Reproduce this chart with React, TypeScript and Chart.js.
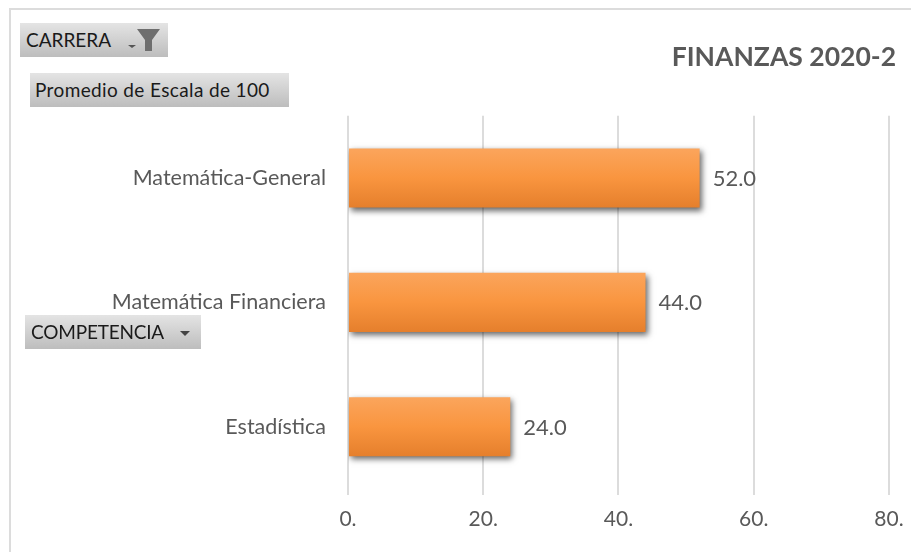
import React, { useEffect, useRef } from "react";
import { Chart, registerables } from "chart.js";

Chart.register(...registerables);

const categories = ["Matemática-General", "Matemática Financiera", "Estadística"];
const values = [52, 44, 24];
const seriesName = "Promedio de Escala de 100";
const titleText = "FINANZAS 2020-2";
const FONT = "Lato, 'Open Sans', sans-serif";
const GREY = "#595959";
const BAR_PCT = 0.475;

const barStyle: any = {
  id: "barStyle",
  beforeDatasetDraw(chart: any) {
    const c = chart.ctx;
    c.save();
    c.shadowColor = "rgba(0,0,0,0.6)";
    c.shadowBlur = 6;
    c.shadowOffsetX = 2;
    c.shadowOffsetY = 3;
  },
  afterDatasetDraw(chart: any) {
    chart.ctx.restore();
  },
  afterDatasetsDraw(chart: any) {
    const c = chart.ctx;
    const meta = chart.getDatasetMeta(0);
    c.save();
    c.font = `22px ${FONT}`;
    c.fillStyle = GREY;
    c.textAlign = "left";
    c.textBaseline = "middle";
    meta.data.forEach((el: any, i: number) => {
      c.fillText(values[i].toFixed(1), el.x + 13, el.y + 1);
    });
    c.restore();
  },
};

function Button({ left, top, width, text, textLeft = 5, spacing = 0, children }: any) {
  return (
    <div
      style={{
        position: "absolute",
        left,
        top,
        width,
        height: 34,
        background: "linear-gradient(#e4e4e4, #bdbdbd)",
        color: "#1a1a1a",
        font: `19px ${FONT}`,
        lineHeight: "34px",
        letterSpacing: spacing,
        whiteSpace: "nowrap",
      }}
    >
      <span style={{ position: "absolute", left: textLeft }}>{text}</span>
      {children}
    </div>
  );
}

export default function App() {
  const ref = useRef<HTMLCanvasElement>(null);
  useEffect(() => {
    const chart = new Chart(ref.current!, {
      type: "bar",
      data: {
        labels: categories,
        datasets: [
          {
            label: seriesName,
            data: values,
            barPercentage: BAR_PCT,
            categoryPercentage: 1,
            backgroundColor: (ctx: any) => {
              const y = ctx.chart.scales?.y;
              const idx = ctx.dataIndex;
              if (!y || idx === undefined) return "#f79646";
              const mid = y.getPixelForTick(idx);
              const h = ((y.height / categories.length) * BAR_PCT) / 2;
              if (!Number.isFinite(mid) || !Number.isFinite(h)) return "#f79646";
              const g = ctx.chart.ctx.createLinearGradient(0, mid - h, 0, mid + h);
              g.addColorStop(0, "#fba55c");
              g.addColorStop(0.5, "#f9953f");
              g.addColorStop(1, "#e57f2c");
              return g;
            },
          },
        ],
      },
      options: {
        indexAxis: "y",
        animation: false,
        responsive: false,
        layout: { padding: { left: 0, right: 15, top: 0, bottom: 0 } },
        plugins: {
          legend: { display: false },
          tooltip: { enabled: false },
          title: {
            display: true,
            text: titleText,
            align: "end",
            color: GREY,
            font: { family: FONT, size: 26.5, weight: "bold" },
            padding: { top: 42, bottom: 42 },
          },
        },
        scales: {
          x: {
            min: 0,
            max: 81.04,
            border: { display: false },
            grid: { color: "#dcdcdc", lineWidth: 2, tickLength: 6, drawTicks: true },
            ticks: {
              stepSize: 20,
              includeBounds: false,
              maxRotation: 0,
              color: GREY,
              padding: 12,
              font: { family: FONT, size: 21 },
              callback: (v: any) => `${v}.`,
            },
            afterFit: (s: any) => {
              s.height = 63;
              s.paddingLeft = 0;
              s.paddingRight = 0;
            },
          },
          y: {
            border: { display: false },
            grid: { display: false, drawTicks: false },
            ticks: { color: GREY, padding: 22, font: { family: FONT, size: 21.5 } },
            afterFit: (s: any) => {
              s.width = 348;
            },
          },
        },
      } as any,
      plugins: [barStyle],
    });
    return () => chart.destroy();
  }, []);

  return (
    <div style={{ position: "absolute", left: 0, top: 0, width: 911, height: 552, background: "#fff", overflow: "hidden" }}>
      <canvas ref={ref} width={911} height={552} style={{ position: "absolute", left: 0, top: 0 }} />
      <div style={{ position: "absolute", left: 9, top: 8, width: 930, height: 600, border: "2px solid #dcdcdc", boxSizing: "border-box" }} />
      <Button left={20} top={23} width={148} text="CARRERA" textLeft={6}>
        <svg width="148" height="34" style={{ position: "absolute", left: 0, top: 0 }}>
          <path d="M108 22h8l-4 3z" fill="#555" />
          <path d="M117 6h23l-8 11v11h-7v-11z" fill="#6e6e6e" />
        </svg>
      </Button>
      <Button left={30} top={73} width={259} text="Promedio de Escala de 100" spacing={0.37} />
      <Button left={25} top={315} width={176} text="COMPETENCIA" textLeft={6} spacing={-0.2}>
        <svg width="176" height="34" style={{ position: "absolute", left: 0, top: 0 }}>
          <path d="M155 16h10l-5 5z" fill="#444" />
        </svg>
      </Button>
    </div>
  );
}
